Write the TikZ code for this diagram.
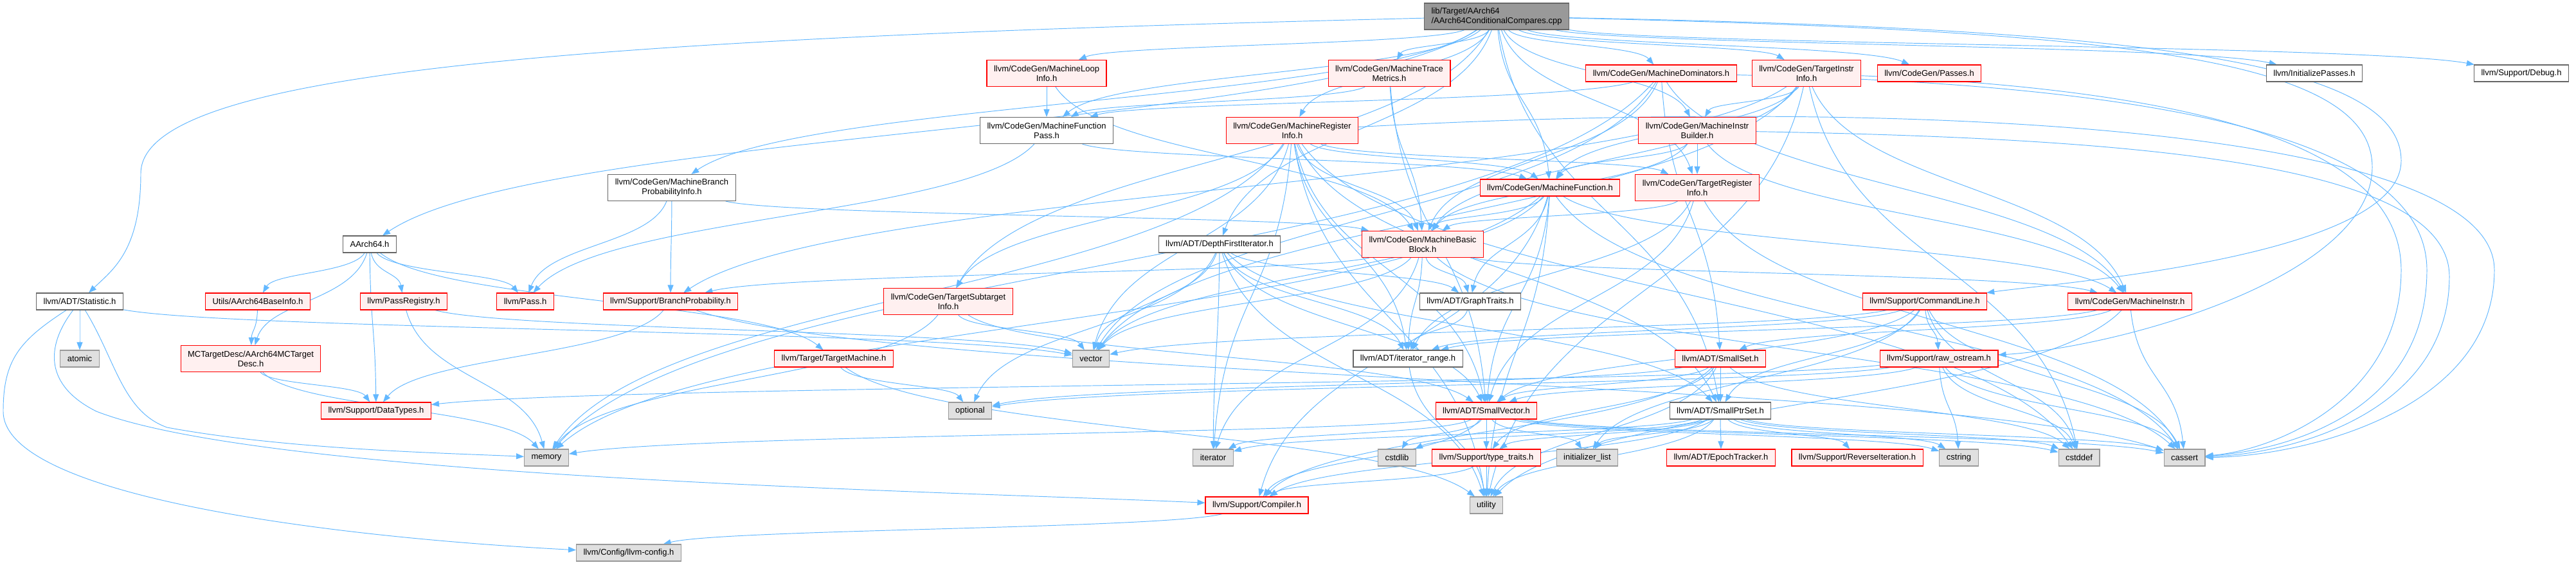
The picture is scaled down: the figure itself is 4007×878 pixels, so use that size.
\documentclass[tikz,border=0pt]{standalone}
\usepackage{fontspec}
\setmainfont{Liberation Sans}
\usetikzlibrary{arrows.meta,calc}
\definecolor{edgeblue}{HTML}{63B8FF}
\definecolor{pinkbg}{HTML}{FFF0F0}
\definecolor{grayE0}{HTML}{E0E0E0}
\definecolor{gray99}{HTML}{999999}
\definecolor{gray66}{HTML}{666666}
\pgfdeclarelayer{paper}
\pgfdeclarelayer{background}
\pgfsetlayers{paper,background,main}
\tikzset{
  box/.style={draw, line width=1.1pt, inner xsep=11pt, inner ysep=0pt, minimum height=26pt,
    align=center, font=\fontsize{13}{15}\selectfont, text=black},
  two/.style={minimum height=41pt},
  rednode/.style={box, draw=red, fill=pinkbg},
  graynode/.style={box, draw=gray99, fill=grayE0},
  whitenode/.style={box, draw=gray66, fill=white},
  rootnode/.style={box, draw=gray66, fill=gray99, align=left},
  e/.style={draw=edgeblue, line width=0.95pt, -{Triangle[length=12pt,width=9pt]}}
}
\newcommand\lnk[2]{\draw[e] let \p1=(#1), \p2=(#2) in (#1) .. controls ({0.85*\x1+0.15*\x2},{0.5*\y1+0.5*\y2}) and ({0.15*\x1+0.85*\x2},{0.5*\y1+0.5*\y2}) .. (#2);}
\begin{document}
\begin{tikzpicture}[x=1pt,y=-1pt]
\begin{pgfonlayer}{paper}
\fill[white] (0,0) rectangle (4007,878);
\end{pgfonlayer}
\useasboundingbox (0,0) rectangle (4007,878);
\node[rootnode,two] (root) at (2328,25.5) {lib/Target/AArch64\\/AArch64ConditionalCompares.cpp};
\node[rednode,two] (MLI) at (1628,114) {llvm/CodeGen/MachineLoop\\Info.h};
\node[rednode,two] (MTM) at (2161,114) {llvm/CodeGen/MachineTrace\\Metrics.h};
\node[rednode] (MD) at (2584,114) {llvm/CodeGen/MachineDominators.h};
\node[rednode,two] (TII) at (2810,114) {llvm/CodeGen/TargetInstr\\Info.h};
\node[rednode] (Passes) at (3001,114) {llvm/CodeGen/Passes.h};
\node[whitenode] (InitP) at (3600,114) {llvm/InitializePasses.h};
\node[whitenode] (Debug) at (3922,114) {llvm/Support/Debug.h};
\node[whitenode,two] (MFP) at (1628,203) {llvm/CodeGen/MachineFunction\\Pass.h};
\node[rednode,two] (MRI) at (2010,203) {llvm/CodeGen/MachineRegister\\Info.h};
\node[rednode,two] (MIB) at (2640,203) {llvm/CodeGen/MachineInstr\\Builder.h};
\node[whitenode,two] (MBPI) at (1045,292) {llvm/CodeGen/MachineBranch\\ProbabilityInfo.h};
\node[rednode] (MF) at (2411,292) {llvm/CodeGen/MachineFunction.h};
\node[rednode,two] (TRI) at (2640,292) {llvm/CodeGen/TargetRegister\\Info.h};
\node[whitenode] (AArch) at (575,380) {AArch64.h};
\node[whitenode] (DFI) at (1897,380) {llvm/ADT/DepthFirstIterator.h};
\node[rednode,two] (MBB) at (2213,380) {llvm/CodeGen/MachineBasic\\Block.h};
\node[whitenode] (Stat) at (124,469) {llvm/ADT/Statistic.h};
\node[rednode] (BaseInfo) at (401,469) {Utils/AArch64BaseInfo.h};
\node[rednode] (PassReg) at (628,469) {llvm/PassRegistry.h};
\node[rednode] (Pass) at (817,469) {llvm/Pass.h};
\node[rednode] (BP) at (1043,469) {llvm/Support/BranchProbability.h};
\node[rednode,two] (TSI) at (1475,469) {llvm/CodeGen/TargetSubtarget\\Info.h};
\node[whitenode] (GT) at (2287,469) {llvm/ADT/GraphTraits.h};
\node[rednode] (CL) at (2994,469) {llvm/Support/CommandLine.h};
\node[rednode] (MI) at (3313,469) {llvm/CodeGen/MachineInstr.h};
\node[graynode] (atomic) at (124,558) {atomic};
\node[rednode,two] (MCTD) at (390,558) {MCTargetDesc/AArch64MCTarget\\Desc.h};
\node[rednode] (TM) at (1297,558) {llvm/Target/TargetMachine.h};
\node[graynode] (vector) at (1697,558) {vector};
\node[whitenode] (itr) at (2190,558) {llvm/ADT/iterator\_range.h};
\node[rednode] (SSet) at (2676,558) {llvm/ADT/SmallSet.h};
\node[rednode] (raw) at (3016,558) {llvm/Support/raw\_ostream.h};
\node[rednode] (DT) at (585,639) {llvm/Support/DataTypes.h};
\node[graynode] (optional) at (1509,639) {optional};
\node[rednode] (SV) at (2312,639) {llvm/ADT/SmallVector.h};
\node[whitenode] (SPS) at (2676,639) {llvm/ADT/SmallPtrSet.h};
\node[graynode] (memory) at (850,712) {memory};
\node[graynode] (iterator) at (1887,712) {iterator};
\node[graynode] (cstdlib) at (2173,712) {cstdlib};
\node[rednode] (TT) at (2312,712) {llvm/Support/type\_traits.h};
\node[graynode] (initlist) at (2469,712) {initializer\_list};
\node[rednode] (Epoch) at (2677,712) {llvm/ADT/EpochTracker.h};
\node[rednode] (RevIt) at (2889,712) {llvm/Support/ReverseIteration.h};
\node[graynode] (cstring) at (3047,712) {cstring};
\node[graynode] (cstddef) at (3234,712) {cstddef};
\node[graynode] (cassert) at (3398,712) {cassert};
\node[rednode] (Comp) at (1955,786) {llvm/Support/Compiler.h};
\node[graynode] (utility) at (2312,786) {utility};
\node[graynode] (cfg) at (978,860) {llvm/Config/llvm-config.h};
\begin{pgfonlayer}{background}
% root
\lnk{root}{AArch}\lnk{root}{DFI}\lnk{root}{SPS}\lnk{root}{MBPI}
\lnk{root}{MD}\lnk{root}{MF}\lnk{root}{MFP}\lnk{root}{MIB}\lnk{root}{MLI}
\lnk{root}{MRI}\lnk{root}{MTM}\lnk{root}{Passes}\lnk{root}{TII}\lnk{root}{TRI}
\lnk{root}{TSI}\lnk{root}{InitP}\lnk{root}{Debug}
\draw[e] (root) .. controls (900,60) and (219,110) .. (219,270) .. controls (219,390) and (175,420) .. (Stat);
\draw[e] (root) .. controls (3300,48) and (3690,90) .. (3690,260) .. controls (3690,430) and (3300,540) .. (raw);
\draw[e] (root) .. controls (3300,44) and (3735,90) .. (3735,250) .. controls (3735,400) and (3200,440) .. (CL);
% AArch64.h
\lnk{AArch}{MCTD}\lnk{AArch}{BaseInfo}\lnk{AArch}{Pass}\lnk{AArch}{PassReg}\lnk{AArch}{DT}\lnk{AArch}{TM}
% Statistic
\lnk{Stat}{atomic}\lnk{Stat}{vector}
\draw[e] (Stat) .. controls (30,530) and (5,560) .. (5,640) .. controls (5,770) and (500,835) .. (cfg);
\draw[e] (Stat) .. controls (70,540) and (70,600) .. (150,640) .. controls (420,745) and (1500,765) .. (Comp);
\draw[e] (Stat) .. controls (180,560) and (190,640) .. (260,665) .. controls (450,700) and (700,705) .. (memory);
\lnk{BaseInfo}{MCTD}
\lnk{MCTD}{DT}\lnk{MCTD}{memory}
\lnk{PassReg}{memory}\lnk{PassReg}{vector}
\lnk{BP}{DT}\lnk{BP}{cassert}
\lnk{TM}{optional}\lnk{TM}{utility}
\lnk{MBPI}{MBB}\lnk{MBPI}{Pass}\lnk{MBPI}{BP}
\lnk{MLI}{MFP}\lnk{MLI}{MBB}
\lnk{MFP}{MF}\lnk{MFP}{Pass}
\lnk{MTM}{MFP}\lnk{MTM}{MBB}\lnk{MTM}{SV}
\lnk{MD}{MFP}\lnk{MD}{MBB}\lnk{MD}{SSet}\lnk{MD}{MI}\lnk{MD}{memory}\lnk{MD}{vector}
\draw[e] (MD) .. controls (3300,130) and (3775,200) .. (3775,420) .. controls (3775,640) and (3560,700) .. (cassert);
\lnk{TII}{MIB}\lnk{TII}{MBB}\lnk{TII}{MF}\lnk{TII}{MI}\lnk{TII}{BP}\lnk{TII}{cstddef}\lnk{TII}{utility}\lnk{TII}{vector}
\draw[e] (TII) .. controls (3400,140) and (3735,220) .. (3735,420) .. controls (3735,620) and (3540,700) .. (cassert);
\lnk{MRI}{SPS}\lnk{MRI}{SV}\lnk{MRI}{itr}\lnk{MRI}{MBB}\lnk{MRI}{MF}\lnk{MRI}{TRI}\lnk{MRI}{TSI}
\lnk{MRI}{cstddef}\lnk{MRI}{iterator}\lnk{MRI}{memory}\lnk{MRI}{utility}\lnk{MRI}{vector}
\draw[e] (MRI) .. controls (3000,150) and (3880,200) .. (3880,420) .. controls (3880,640) and (3580,710) .. (cassert);
\lnk{MIB}{MBB}\lnk{MIB}{MF}\lnk{MIB}{MI}\lnk{MIB}{TRI}
\draw[e] (MIB) .. controls (3300,215) and (3810,250) .. (3810,430) .. controls (3810,640) and (3570,705) .. (cassert);
\lnk{MF}{GT}\lnk{MF}{SV}\lnk{MF}{MBB}\lnk{MF}{MI}\lnk{MF}{Comp}\lnk{MF}{cassert}\lnk{MF}{memory}\lnk{MF}{utility}\lnk{MF}{vector}
\lnk{TRI}{SV}\lnk{TRI}{itr}\lnk{TRI}{MBB}\lnk{TRI}{cassert}
\lnk{MBB}{GT}\lnk{MBB}{itr}\lnk{MBB}{MI}\lnk{MBB}{BP}\lnk{MBB}{cassert}\lnk{MBB}{iterator}\lnk{MBB}{vector}
\lnk{DFI}{GT}\lnk{DFI}{SPS}\lnk{DFI}{SV}\lnk{DFI}{itr}\lnk{DFI}{iterator}\lnk{DFI}{optional}\lnk{DFI}{utility}\lnk{DFI}{vector}
\lnk{TSI}{SV}\lnk{TSI}{memory}\lnk{TSI}{vector}
\lnk{GT}{itr}
\lnk{itr}{utility}
\lnk{SV}{Comp}\lnk{SV}{TT}\lnk{SV}{cassert}\lnk{SV}{cstddef}\lnk{SV}{cstdlib}\lnk{SV}{cstring}\lnk{SV}{initlist}\lnk{SV}{iterator}\lnk{SV}{memory}\lnk{SV}{utility}
\lnk{TT}{Comp}\lnk{TT}{utility}
\lnk{SSet}{SPS}\lnk{SSet}{SV}\lnk{SSet}{Comp}\lnk{SSet}{TT}\lnk{SSet}{cstddef}\lnk{SSet}{optional}\lnk{SSet}{utility}
\lnk{SPS}{Epoch}\lnk{SPS}{Comp}\lnk{SPS}{RevIt}\lnk{SPS}{TT}\lnk{SPS}{cassert}\lnk{SPS}{cstddef}\lnk{SPS}{cstdlib}\lnk{SPS}{cstring}\lnk{SPS}{initlist}\lnk{SPS}{iterator}\lnk{SPS}{utility}
\lnk{CL}{SPS}\lnk{CL}{SV}\lnk{CL}{itr}\lnk{CL}{raw}\lnk{CL}{cassert}\lnk{CL}{cstddef}\lnk{CL}{initlist}\lnk{CL}{vector}
\lnk{raw}{SV}\lnk{raw}{DT}\lnk{raw}{cassert}\lnk{raw}{cstddef}\lnk{raw}{cstring}\lnk{raw}{optional}
\lnk{MI}{SSet}\lnk{MI}{itr}\lnk{MI}{cassert}\lnk{MI}{utility}
\lnk{Comp}{cfg}
\end{pgfonlayer}
\end{tikzpicture}
\end{document}
